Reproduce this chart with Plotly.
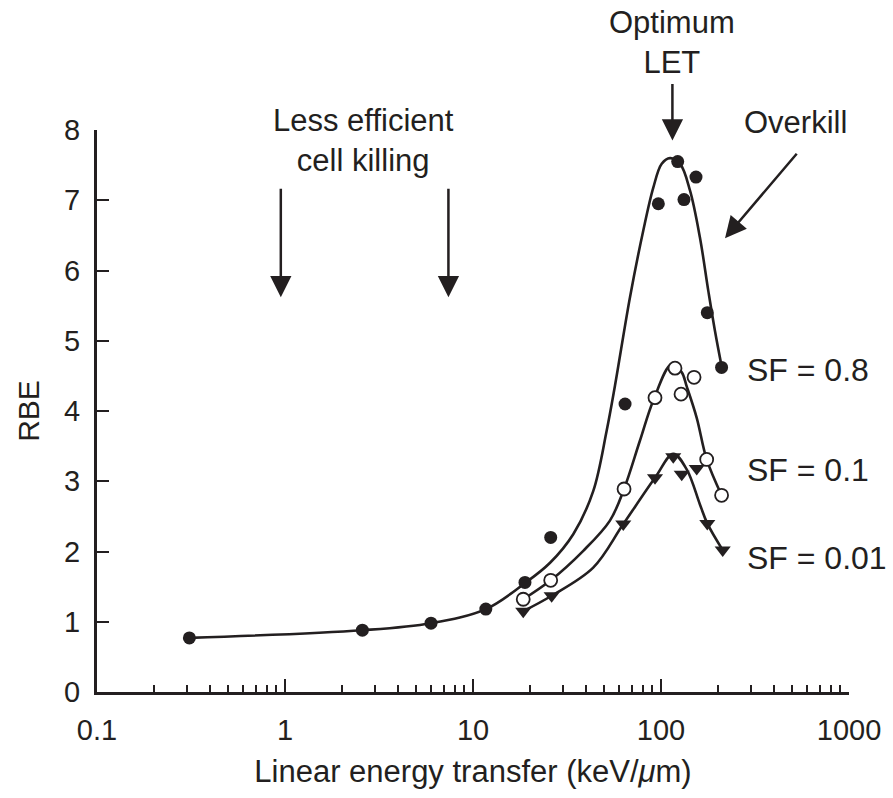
import math
import plotly.graph_objects as go

# ---- measured points (LET in keV/um, RBE) ----
sf08_let = [0.31, 2.58, 5.98, 11.7, 18.9, 25.9, 64.4, 96.8, 122.7, 132.5, 153.5, 176.3, 210]
sf08_rbe = [0.77, 0.88, 0.98, 1.18, 1.56, 2.20, 4.10, 6.95, 7.55, 7.01, 7.33, 5.40, 4.62]

sf01_let = [18.5, 25.9, 63.6, 92.9, 118.7, 127.8, 149.9, 175, 210]
sf01_rbe = [1.32, 1.59, 2.89, 4.19, 4.61, 4.24, 4.48, 3.31, 2.80]

sf001_let = [18.5, 26.2, 63.0, 92.9, 116.2, 128.9, 154.9, 176.3, 212.9]
sf001_rbe = [1.15, 1.37, 2.39, 3.05, 3.35, 3.10, 3.18, 2.40, 2.02]

# ---- fitted curves (LET, RBE) ----
fit08_let = [0.31, 2.58, 5.98, 11.7, 18.9, 25.7, 34.2, 43.6, 51.4, 56.9, 68.4, 80.5,
             91.0, 100.9, 111.7, 126.2, 142.6, 161.1, 178.5, 193.7, 210]
fit08_rbe = [0.77, 0.88, 0.98, 1.18, 1.55, 1.84, 2.25, 2.86, 3.72, 4.36, 5.62, 6.57,
             7.18, 7.52, 7.60, 7.52, 7.14, 6.47, 5.71, 5.14, 4.64]

fit01_let = [18.5, 25.9, 38.6, 53.5, 63.6, 77.3, 91.0, 114.0, 128.9, 137, 155, 175, 210]
fit01_rbe = [1.32, 1.59, 2.01, 2.44, 2.89, 3.58, 4.15, 4.67, 4.55, 4.35, 3.90, 3.31, 2.80]

fit001_let = [18.5, 26.2, 43.6, 63.0, 92.9, 116.2, 137, 161.1, 176.3, 212.9]
fit001_rbe = [1.15, 1.37, 1.77, 2.39, 3.05, 3.39, 3.17, 2.67, 2.40, 2.02]

curve_labels = ["SF = 0.8", "SF = 0.1", "SF = 0.01"]
label_let = 280
label_rbe = [4.58, 3.16, 1.91]

major_ticks = [0.1, 1, 10, 100, 1000]
minor_ticks = [m * d for d in [0.1, 1, 10, 100] for m in range(2, 10)]

INK = "#231f20"
FONT = "Liberation Sans, Arial, sans-serif"
LW = 2.6
TXT = 31

fig = go.Figure()

for xs, ys in [(fit08_let, fit08_rbe), (fit01_let, fit01_rbe), (fit001_let, fit001_rbe)]:
    fig.add_trace(go.Scatter(x=xs, y=ys, mode="lines",
                             line=dict(color=INK, width=LW, shape="spline", smoothing=1.0),
                             hoverinfo="skip", showlegend=False))

fig.add_trace(go.Scatter(x=sf08_let, y=sf08_rbe, mode="markers",
                         marker=dict(symbol="circle", size=13, color=INK,
                                     line=dict(width=0)),
                         showlegend=False))
fig.add_trace(go.Scatter(x=sf01_let, y=sf01_rbe, mode="markers",
                         marker=dict(symbol="circle", size=13, color="white",
                                     line=dict(color=INK, width=1.8)),
                         showlegend=False))
fig.add_trace(go.Scatter(x=sf001_let, y=sf001_rbe, mode="markers",
                         marker=dict(symbol="triangle-down", size=14, color=INK,
                                     line=dict(width=0)),
                         showlegend=False))

ann = []
for txt, yv in zip(curve_labels, label_rbe):
    ann.append(dict(x=math.log10(label_let), y=yv, xref="x", yref="y", text=txt,
                    showarrow=False, xanchor="left", yanchor="middle",
                    font=dict(size=32, color=INK, family=FONT)))

# explanatory text (above the plotting area uses paper y)
ann.append(dict(x=math.log10(2.63), y=(692 - 140) / 562, xref="x", yref="paper",
                text="Less efficient<br>cell killing", showarrow=False,
                xanchor="center", yanchor="middle",
                font=dict(size=TXT, color=INK, family=FONT)))
ann.append(dict(x=math.log10(115), y=(692 - 42) / 562, xref="x", yref="paper",
                text="Optimum<br>LET", showarrow=False,
                xanchor="center", yanchor="middle",
                font=dict(size=TXT, color=INK, family=FONT)))
ann.append(dict(x=math.log10(520), y=(692 - 122) / 562, xref="x", yref="paper",
                text="Overkill", showarrow=False,
                xanchor="center", yanchor="middle",
                font=dict(size=TXT, color=INK, family=FONT)))

# arrows
arrow_style = dict(showarrow=True, arrowhead=2, arrowsize=1.7, arrowwidth=2.5,
                   arrowcolor=INK, text="", xref="x", yref="y")
for xv in [0.95, 7.4]:
    ann.append(dict(x=math.log10(xv), y=5.62, ax=0, ay=-110, **arrow_style))
ann.append(dict(x=math.log10(115), y=7.85, ax=0, ay=-58, **arrow_style))
ann.append(dict(x=math.log10(219), y=6.46, ax=73, ay=-86, **arrow_style))

fig.update_layout(
    width=893, height=798,
    margin=dict(l=97, r=44, t=130, b=106),
    paper_bgcolor="white", plot_bgcolor="white",
    font=dict(family=FONT, color=INK, size=29),
    annotations=ann,
    xaxis=dict(type="log", range=[-1, 3], tickvals=major_ticks,
               ticktext=["0.1", "1", "10", "100", "1000"],
               ticks="inside", ticklen=13, tickwidth=2.2, tickcolor=INK,
               minor=dict(tickvals=minor_ticks, ticks="inside", ticklen=7,
                          tickwidth=2, tickcolor=INK, showgrid=False),
               showline=True, linecolor=INK, linewidth=3, showgrid=False,
               zeroline=False, tickfont=dict(size=29), ticklabelstandoff=10,
               title=dict(text="Linear energy transfer (keV/<i>\u03bc</i>m)",
                          font=dict(size=31), standoff=16)),
    yaxis=dict(range=[0, 8], tickvals=list(range(0, 9)),
               ticks="inside", ticklen=12, tickwidth=2.2, tickcolor=INK,
               showline=True, linecolor=INK, linewidth=3, showgrid=False,
               zeroline=False, tickfont=dict(size=29), ticklabelstandoff=8,
               title=dict(text="RBE", font=dict(size=30), standoff=16)),
)

fig.write_html("out.html")
